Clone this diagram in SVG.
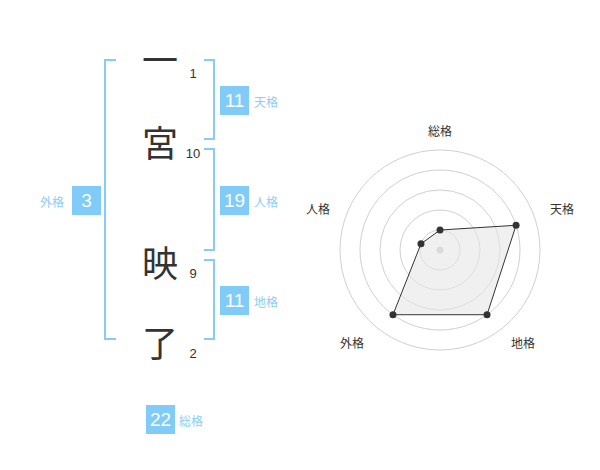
<svg xmlns="http://www.w3.org/2000/svg" width="600" height="470" viewBox="0 0 600 470">
<style>
.br{fill:none;stroke:#88ccf6;stroke-width:2}
.box{fill:#80cbf7}
.bn{font-family:"Liberation Sans",Arial,sans-serif;font-size:19px;fill:#fff;text-anchor:middle;dominant-baseline:central}
.lb{font-family:"Noto Sans CJK JP",sans-serif;font-size:12px;fill:#8ccdf5;dominant-baseline:central}
.ch{font-family:"Noto Sans CJK JP",sans-serif;font-size:36px;fill:#333;text-anchor:middle;dominant-baseline:central}
.sn{font-family:"Liberation Sans",Arial,sans-serif;font-size:13px;fill:#333;text-anchor:middle;dominant-baseline:central}
.ring{fill:none;stroke:#d0d0d0;stroke-width:1}
.rl{font-family:"Noto Sans CJK JP",sans-serif;font-size:12px;fill:#333;text-anchor:middle;dominant-baseline:central}
.dot{fill:#333}
</style>
<rect width="600" height="470" fill="#fff"/>
<g id="connectors">
<path class="br" d="M116,60 H105 V339 H116"/>
<path class="br" d="M204,60 H214 V139 H204"/>
<path class="br" d="M204,149 H214 V250 H204"/>
<path class="br" d="M204,260 H214 V339 H204"/>
</g>
<g id="name">
<g id="char1"><text class="ch" x="160" y="58">一</text><text class="sn" x="193" y="73">1</text></g>
<g id="char2"><text class="ch" x="160" y="141">宮</text><text class="sn" x="193" y="153">10</text></g>
<g id="char3"><text class="ch" x="160" y="261">映</text><text class="sn" x="193" y="273">9</text></g>
<g id="char4"><text class="ch" x="160" y="341">了</text><text class="sn" x="193" y="353">2</text></g>
</g>
<g id="tenkaku"><rect class="box" x="220" y="86" width="29" height="29"/><text class="bn" x="234.5" y="100.5">11</text><text class="lb" x="254" y="101">天格</text></g>
<g id="jinkaku"><rect class="box" x="220" y="186" width="29" height="29"/><text class="bn" x="234.5" y="200.5">19</text><text class="lb" x="254" y="201">人格</text></g>
<g id="chikaku"><rect class="box" x="220" y="286" width="29" height="29"/><text class="bn" x="234.5" y="300.5">11</text><text class="lb" x="254" y="301">地格</text></g>
<g id="gaikaku"><rect class="box" x="72" y="186" width="29" height="29"/><text class="bn" x="86.5" y="200.5">3</text><text class="lb" x="40" y="201">外格</text></g>
<g id="soukaku"><rect class="box" x="146" y="405" width="29" height="29"/><text class="bn" x="160.5" y="419.5">22</text><text class="lb" x="179" y="420">総格</text></g>
<g id="radar">
<circle class="ring" cx="440" cy="250" r="20"/>
<circle class="ring" cx="440" cy="250" r="40"/>
<circle class="ring" cx="440" cy="250" r="60"/>
<circle class="ring" cx="440" cy="250" r="80"/>
<circle class="ring" cx="440" cy="250" r="100"/>
<circle cx="440" cy="250" r="3.5" fill="#c8c8c8"/>
<polygon points="440,230 516.08,225.28 487.02,314.72 392.98,314.72 420.98,243.82" fill="#e6e6e6" fill-opacity="0.6" stroke="#333" stroke-width="1"/>
<circle class="dot" cx="440" cy="230" r="3.5"/>
<circle class="dot" cx="516.08" cy="225.28" r="3.5"/>
<circle class="dot" cx="487.02" cy="314.72" r="3.5"/>
<circle class="dot" cx="392.98" cy="314.72" r="3.5"/>
<circle class="dot" cx="420.98" cy="243.82" r="3.5"/>
<text class="rl" x="440" y="130">総格</text>
<text class="rl" x="562" y="208">天格</text>
<text class="rl" x="523" y="342">地格</text>
<text class="rl" x="352" y="342">外格</text>
<text class="rl" x="318" y="208">人格</text>
</g>
</svg>
